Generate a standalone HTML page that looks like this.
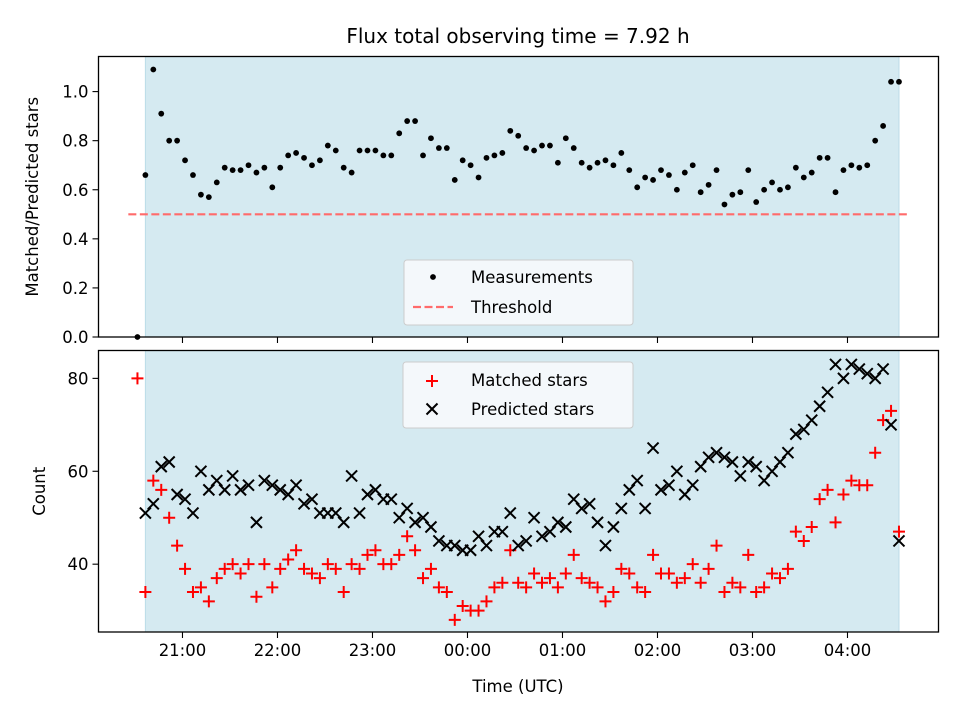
<!DOCTYPE html>
<html><head><meta charset="utf-8"><style>
body{margin:0;background:#fff}
svg text{font-family:"DejaVu Sans","Liberation Sans",sans-serif;fill:#000}
</style></head><body>
<svg id="chart" width="960" height="720" viewBox="0 0 960 720" xmlns="http://www.w3.org/2000/svg">
<rect width="960" height="720" fill="#fff"/>
<text x="518" y="43" font-size="20" text-anchor="middle">Flux total observing time = 7.92 h</text>
<g id="top"></g>
<g id="bot"></g>
</svg>
<script>
// time of first sample (hours relative to 21:00) and sample interval (hours)
const startHour = -0.474;
const stepHour = 0.0835;
const ratioValues = [0.0,0.66,1.09,0.91,0.80,0.80,0.72,0.66,0.58,0.57,0.63,0.69,0.68,0.68,0.70,0.67,0.69,0.61,0.69,0.74,0.75,0.73,0.70,0.72,0.78,0.76,0.69,0.67,0.76,0.76,0.76,0.74,0.74,0.83,0.88,0.88,0.74,0.81,0.77,0.77,0.64,0.72,0.70,0.65,0.73,0.74,0.75,0.84,0.82,0.77,0.76,0.78,0.78,0.71,0.81,0.77,0.71,0.69,0.71,0.72,0.70,0.75,0.68,0.61,0.65,0.64,0.68,0.66,0.60,0.67,0.70,0.59,0.62,0.68,0.54,0.58,0.59,0.68,0.55,0.60,0.63,0.60,0.61,0.69,0.65,0.67,0.73,0.73,0.59,0.68,0.70,0.69,0.70,0.80,0.86,1.04,1.04];
const matchedValues = [80,34,58,56,50,44,39,34,35,32,37,39,40,38,40,33,40,35,39,41,43,39,38,37,40,39,34,40,39,42,43,40,40,42,46,43,37,39,35,34,28,31,30,30,32,35,36,43,36,35,38,36,37,35,38,42,37,36,35,32,34,39,38,35,34,42,38,38,36,37,40,36,39,44,34,36,35,42,34,35,38,37,39,47,45,48,54,56,49,55,58,57,57,64,71,73,47];
const predictedValues = [null,51,53,61,62,55,54,51,60,56,58,56,59,56,57,49,58,57,56,55,57,53,54,51,51,51,49,59,51,55,56,54,54,50,52,49,50,48,45,44,44,43,43,46,44,47,47,51,44,45,50,46,47,49,48,54,52,53,49,44,48,52,56,58,52,65,56,57,60,55,57,61,63,64,63,62,59,62,61,58,60,62,64,68,69,71,74,77,83,80,83,82,81,80,82,70,45];
const threshold = 0.5;
const ratioTicks = [0.0,0.2,0.4,0.6,0.8,1.0];
const countTicks = [40,60,80];
const timeTicks = [0,1,2,3,4,5,6,7];
const timeLabels = ["21:00","22:00","23:00","00:00","01:00","02:00","03:00","04:00"];

const NS="http://www.w3.org/2000/svg";
const L=98.5,R=938.5;
const xMin=-0.884,xMax=7.958;
const X=h=>L+(h-xMin)/(xMax-xMin)*(R-L);
const TT=56.5,TB=337,BT=350.5,BB=632;
const yTop=v=>TB-(v-0)/(1.143-0)*(TB-TT);
const yBot=v=>BB-(v-25.4)/(86.0-25.4)*(BB-BT);
function el(tag,attrs,parent){const e=document.createElementNS(NS,tag);for(const k in attrs)e.setAttribute(k,attrs[k]);parent.appendChild(e);return e;}
const tHour=i=>startHour+i*stepHour;
const n=ratioValues.length;
const shadeL=X(tHour(1)),shadeR=X(tHour(n-1));

function panel(g,top,bot,name){
  const bg=el('rect',{x:shadeL,y:top,width:shadeR-shadeL,height:bot-top,fill:'#d5eaf1',stroke:'#bcdce8','stroke-width':1},g);
  
  
}
const gt=document.getElementById('top'),gb=document.getElementById('bot');
panel(gt,TT,TB,'top');panel(gb,BT,BB,'bottom');

// threshold line
const th=el('line',{x1:X(-0.57),x2:X(7.63),y1:yTop(threshold),y2:yTop(threshold),stroke:'#ff6b6b','stroke-width':2.2,'stroke-dasharray':'8,3.5'},gt);



ratioValues.forEach((v,i)=>{
  const c=el('circle',{cx:X(tHour(i)),cy:yTop(v),r:2.9,fill:'#000'},gt);
  
  
});
function plus(g,x,y){const p=el('path',{d:`M${x-6},${y}H${x+6}M${x},${y-6}V${y+6}`,stroke:'#f00','stroke-width':2},g);return p;}
function cross(g,x,y){const p=el('path',{d:`M${x-5.5},${y-5.5}L${x+5.5},${y+5.5}M${x-5.5},${y+5.5}L${x+5.5},${y-5.5}`,stroke:'#000','stroke-width':2},g);return p;}
matchedValues.forEach((v,i)=>{
  if(v==null)return;
  const p=plus(gb,X(tHour(i)),yBot(v));
  
  
});
predictedValues.forEach((v,i)=>{
  if(v==null)return;
  const p=cross(gb,X(tHour(i)),yBot(v));
  
  
});

// frames
[[gt,TT,TB,'top'],[gb,BT,BB,'bottom']].forEach(([g,t,b,nm])=>{
  const f=el('rect',{x:L,y:t,width:R-L,height:b-t,fill:'none',stroke:'#000','stroke-width':1.3},g);
  
  
  timeTicks.forEach(h=>{
    const tk=el('line',{x1:X(h),x2:X(h),y1:b,y2:b+6,stroke:'#000','stroke-width':1.1},g);
    
    
  });
});
timeTicks.forEach((h,i)=>{
  const t=el('text',{x:X(h),y:BB+24,'font-size':16.5,'text-anchor':'middle'},gb);
  t.textContent=timeLabels[i];
  
  
});
ratioTicks.forEach(v=>{
  const y=yTop(v);
  const tk=el('line',{x1:L-6,x2:L,y1:y,y2:y,stroke:'#000','stroke-width':1.1},gt);
  
  
  const t=el('text',{x:L-10,y:y+6,'font-size':16.5,'text-anchor':'end'},gt);
  t.textContent=v.toFixed(1);
  
  
});
countTicks.forEach(v=>{
  const y=yBot(v);
  const tk=el('line',{x1:L-6,x2:L,y1:y,y2:y,stroke:'#000','stroke-width':1.1},gb);
  
  
  const t=el('text',{x:L-10,y:y+6,'font-size':16.5,'text-anchor':'end'},gb);
  t.textContent=String(v);
  
  
});
let t;
t=el('text',{x:38,y:(TT+TB)/2,'font-size':16.5,'text-anchor':'middle',transform:`rotate(-90 38 ${(TT+TB)/2})`},gt);
t.textContent='Matched/Predicted stars';


t=el('text',{x:45,y:(BT+BB)/2,'font-size':16.5,'text-anchor':'middle',transform:`rotate(-90 45 ${(BT+BB)/2})`},gb);
t.textContent='Count';


t=el('text',{x:518,y:692,'font-size':16.5,'text-anchor':'middle'},gb);
t.textContent='Time (UTC)';



// legends
let lg=el('g',{},gt);


el('rect',{x:404,y:260,width:229,height:65,rx:3,fill:'#f7fafc','fill-opacity':0.9,stroke:'#ccc'},lg);
el('circle',{cx:433,cy:277,r:2.9,fill:'#000'},lg);
t=el('text',{x:471,y:283,'font-size':16.5},lg);t.textContent='Measurements';
el('line',{x1:413,x2:453,y1:307,y2:307,stroke:'#ff6b6b','stroke-width':2.2,'stroke-dasharray':'8,3.5'},lg);
t=el('text',{x:471,y:313,'font-size':16.5},lg);t.textContent='Threshold';

lg=el('g',{},gb);


el('rect',{x:403,y:362,width:230,height:66,rx:3,fill:'#f7fafc','fill-opacity':0.9,stroke:'#ccc'},lg);
plus(lg,432,381);
t=el('text',{x:471,y:386,'font-size':16.5},lg);t.textContent='Matched stars';
cross(lg,432,409);
t=el('text',{x:471,y:415,'font-size':16.5},lg);t.textContent='Predicted stars';
</script>
</body></html>
